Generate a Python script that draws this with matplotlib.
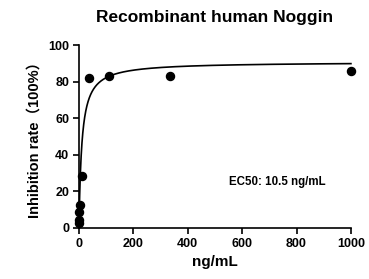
import numpy as np
import matplotlib
matplotlib.use("Agg")
import matplotlib.pyplot as plt

plt.rcParams['font.family'] = ['Liberation Sans', 'Noto Sans CJK SC', 'DejaVu Sans']

# measured points
conc = [1000, 333.3, 111.1, 37.0, 12.3, 4.1, 1.37, 0.46, 0.15]
inhibition = [86, 83, 83.5, 82, 28.5, 12.5, 8.5, 4.5, 2.5]

# fitted curve parameters
fit_bottom = 0.0
fit_top = 91.0
fit_ec50 = 10.5
fit_hill = 1.0

fig = plt.figure(figsize=(3.69, 2.79), dpi=100)
ax = fig.add_axes([0.214, 0.183, 0.737, 0.654])

xs = np.linspace(0, 1000, 2000)
ys = fit_bottom + (fit_top - fit_bottom) / (1 + (fit_ec50 / np.maximum(xs, 1e-9)) ** fit_hill)
ax.plot(xs, ys, color='black', lw=1.2, clip_on=False)
ax.plot(conc, inhibition, 'o', color='black', ms=5.8, clip_on=False, zorder=5)

ax.set_xlim(0, 1000)
ax.set_ylim(0, 100)
ax.set_xticks([0, 200, 400, 600, 800, 1000])
ax.set_yticks([0, 20, 40, 60, 80, 100])
for s in ['top', 'right']:
    ax.spines[s].set_visible(False)
for s in ['left', 'bottom']:
    ax.spines[s].set_linewidth(1.2)
ax.tick_params(width=1.2, length=4, labelsize=9, pad=3)
for lab in ax.get_xticklabels() + ax.get_yticklabels():
    lab.set_fontweight('bold')

ax.set_xlabel('ng/mL', fontsize=11, fontweight='bold', labelpad=4)
ax.set_ylabel('Inhibition rate（100%）', fontsize=10.5, fontweight='bold', labelpad=5)
ax.set_title('Recombinant human Noggin', fontsize=12.5, fontweight='bold', pad=17)
ax.text(728, 25, 'EC50: 10.5 ng/mL', ha='center', va='center', fontsize=8.3, fontweight='bold')

fig.savefig('out.png', dpi=100)
